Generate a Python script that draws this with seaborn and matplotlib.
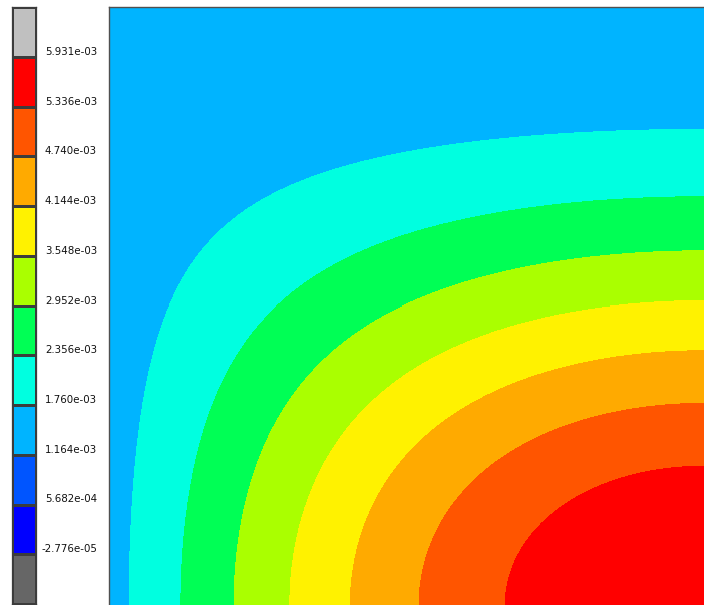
import numpy as np
import pandas as pd
import matplotlib
matplotlib.use("Agg")
import matplotlib.pyplot as plt
from matplotlib.colors import ListedColormap
import seaborn as sns

# Contour levels (band boundaries) and band colours, from the lowest band up
levels = [-2.776e-05, 5.682e-04, 1.164e-03, 1.760e-03, 2.356e-03, 2.952e-03,
          3.548e-03, 4.144e-03, 4.740e-03, 5.336e-03, 5.931e-03]
band_colors = ["#666666", "#0000FF", "#0055FF", "#00B4FF", "#00FFE0", "#00FF55",
               "#AAFF00", "#FFF200", "#FFAA00", "#FF5500", "#FF0000", "#C0C0C0"]
tick_labels = [f"{v:.3e}" for v in levels]

# Quarter-model field: symmetric about the right and bottom edges,
# peak at the bottom-right corner
edge_value = 1.30e-03
peak_value = 5.931e-03
left_fraction = 0.05

sns.set_style("white")
plt.rcParams["font.family"] = ["DejaVu Sans"]

nx, ny = 595, 597
u = (np.arange(nx) + 0.5) / nx
v = (np.arange(ny)[::-1] + 0.5) / ny
U, V = np.meshgrid(u, v)
shape_x = left_fraction + (1 - left_fraction) * np.sin(np.pi * U / 2)
shape_y = np.cos(np.pi * V / 2) ** 2
field = edge_value + (peak_value - edge_value) * shape_x * shape_y
band = np.digitize(field, levels)

cmap = ListedColormap(band_colors)
n_bands = len(band_colors)

fig = plt.figure(figsize=(7.04, 6.05), dpi=100)
fig.patch.set_facecolor("white")

# Fringe plot
ax = fig.add_axes([109 / 704, 0, 595 / 704, 598 / 605])
sns.heatmap(pd.DataFrame(band), ax=ax, cmap=cmap, vmin=-0.5, vmax=n_bands - 0.5,
            cbar=False, xticklabels=False, yticklabels=False, rasterized=True)
ax.set_xlabel("")
ax.set_ylabel("")
for side in ["left", "top"]:
    ax.spines[side].set_visible(True)
    ax.spines[side].set_color("#505050")
    ax.spines[side].set_linewidth(1.0)
for side in ["right", "bottom"]:
    ax.spines[side].set_visible(False)

# Discrete legend column
cax = fig.add_axes([12 / 704, 1 / 605, 24 / 704, 597 / 605])
legend_column = pd.DataFrame(np.arange(n_bands - 1, -1, -1)[:, None])
sns.heatmap(legend_column, ax=cax, cmap=cmap, vmin=-0.5, vmax=n_bands - 0.5,
            cbar=False, linewidths=0.75, linecolor="#3c3c3c",
            xticklabels=False, yticklabels=False)
cax.set_xlabel("")
cax.set_ylabel("")
for side in cax.spines.values():
    side.set_visible(True)
    side.set_color("#3c3c3c")
    side.set_linewidth(0.9)

for j in range(1, n_bands):
    cax.annotate(tick_labels[n_bands - 1 - j], xy=(1, j), xycoords="data",
                 xytext=(61 * 0.72, 5 * 0.72), textcoords="offset points",
                 ha="right", va="center", fontsize=7.4, color="#111111",
                 annotation_clip=False)

fig.savefig("out.png", dpi=100, facecolor="white")
